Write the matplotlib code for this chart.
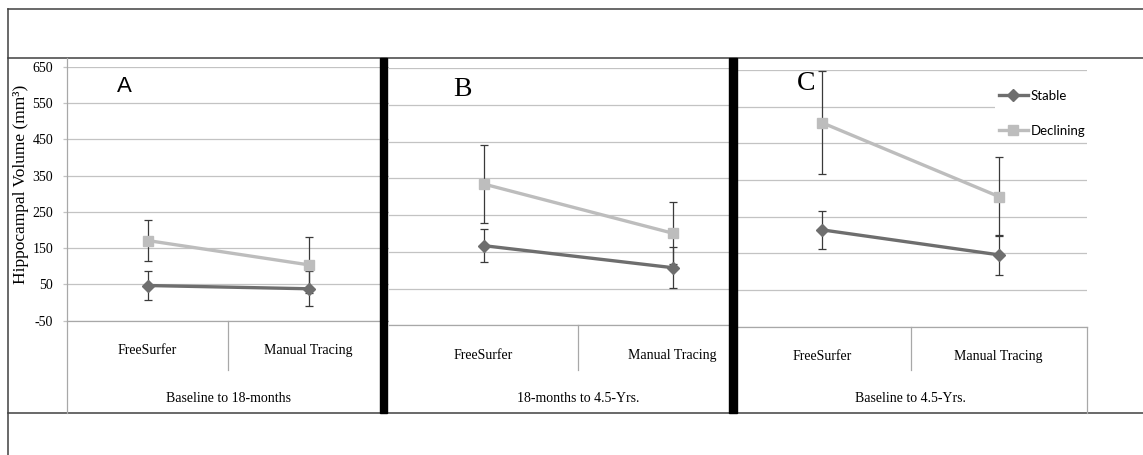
import matplotlib
matplotlib.use("Agg")
import matplotlib.pyplot as plt
from matplotlib.lines import Line2D
from matplotlib.patches import Rectangle
from matplotlib.transforms import blended_transform_factory

# ---------------- data ----------------
categories = ["FreeSurfer", "Manual Tracing"]
panel_titles = ["Baseline to 18-months", "18-months to 4.5-Yrs.", "Baseline to 4.5-Yrs."]
panel_letters = ["A", "B", "C"]
series_names = ["Stable", "Declining"]

stable_A = [47, 38]
stable_A_err = [41, 48]
declining_A = [171, 104]
declining_A_err = [56, 77]

stable_B = [167, 107]
stable_B_err = [44, 55]
declining_B = [335, 201]
declining_B_err = [105, 84]

stable_C = [214, 146]
stable_C_err = [51, 54]
declining_C = [506, 305]
declining_C_err = [140, 107]

yticks = [-50, 50, 150, 250, 350, 450, 550, 650]
ylabel = "Hippocampal Volume (mm³)"

# ---------------- style ----------------
W, H, DPI = 1143, 455, 100
GRID = "#C3C3C3"
AXIS = "#A8A8A8"
STABLE = "#6E6E6E"
DECL = "#BDBDBD"
ERR = "#3A3A3A"
FRAME = "#404040"
SERIF = "Liberation Serif"
SANS = "Liberation Sans"

fig = plt.figure(figsize=(W / DPI, H / DPI), dpi=DPI)


def fx(x):
    return x / W


def fy(y):
    return 1 - y / H


# panel layout in pixels: left, right, top(650), bottom(-50), px per category
rects = [(67, 389, 66.7, 320.7, 161.0),
         (389, 729, 68.3, 325.3, 189.0),
         (734, 1087, 70.0, 326.7, 176.5)]
data = [
    (stable_A, stable_A_err, declining_A, declining_A_err),
    (stable_B, stable_B_err, declining_B, declining_B_err),
    (stable_C, stable_C_err, declining_C, declining_C_err),
]

axes = []
for i, ((l, r, t, b, unit), (s, se, d, de)) in enumerate(zip(rects, data)):
    ax = fig.add_axes([fx(l), fy(b), (r - l) / W, (b - t) / H], zorder=i)
    ax.set_facecolor("white")
    x = list(range(len(categories)))
    ax.set_xlim(-0.5, -0.5 + (r - l) / unit)
    ax.set_ylim(yticks[0], yticks[-1])
    ax.set_yticks(yticks)
    ax.grid(axis="y", color=GRID, lw=0.9)
    ax.set_axisbelow(True)
    for sp in ["top", "right", "left"]:
        ax.spines[sp].set_visible(False)
    ax.spines["bottom"].set_color(AXIS)
    ax.spines["bottom"].set_linewidth(0.9)
    ax.set_xticks(x)
    ax.set_xticklabels(categories, fontfamily=SERIF, fontsize=10)
    ax.tick_params(axis="x", length=0, pad=17)
    if i == 0:
        ax.set_yticklabels([str(v) for v in yticks], fontfamily=SERIF, fontsize=10)
        ax.tick_params(axis="y", length=3, width=0.9, color=GRID, pad=7)
    else:
        ax.tick_params(axis="y", left=False, labelleft=False)

    ax.errorbar(x, s, yerr=se, fmt="none", ecolor=ERR, elinewidth=0.9,
                capsize=3, capthick=0.9, zorder=3)
    ax.errorbar(x, d, yerr=de, fmt="none", ecolor=ERR, elinewidth=0.9,
                capsize=3, capthick=0.9, zorder=3)
    ls, = ax.plot(x, s, color=STABLE, lw=2.4, marker="D", ms=6.5,
                  label=series_names[0], zorder=4)
    ld, = ax.plot(x, d, color=DECL, lw=2.4, marker="s", ms=7.5,
                  label=series_names[1], zorder=4)

    hpx = b - t
    bt = blended_transform_factory(ax.transData, ax.transAxes)
    ax.plot([0.5, 0.5], [0, -(370 - b) / hpx], transform=bt, clip_on=False,
            color=AXIS, lw=0.9)
    ax.text(0.5, -(399 - b) / hpx, panel_titles[i], transform=bt,
            ha="center", va="center", fontfamily=SERIF, fontsize=10)
    axes.append((ax, ls, ld))

# frame lines
def fline(x0, y0, x1, y1, color=FRAME, lw=1.1):
    fig.add_artist(Line2D([fx(x0), fx(x1)], [fy(y0), fy(y1)], color=color, lw=lw,
                          transform=fig.transFigure, zorder=5))

fline(8, 8.7, W, 8.7)
fline(8, 57.5, W, 57.5)
fline(8, 413, W, 413)
fline(8, 8.7, 8, H)
fline(67, 57.5, 67, 413, color=AXIS, lw=0.9)
fline(1087, 326.7, 1087, 413, color=AXIS, lw=0.9)

# black separator bars
for x0, x1 in [(380, 387), (729, 737)]:
    fig.add_artist(Rectangle((fx(x0), fy(413)), (x1 - x0) / W, (413 - 57.5) / H,
                             transform=fig.transFigure, color="black", zorder=6))

# panel letters
fig.text(fx(124), fy(87), panel_letters[0], fontfamily=SANS, fontsize=16,
         ha="center", va="center", zorder=7)
fig.text(fx(462), fy(90), panel_letters[1], fontfamily=SERIF, fontsize=20,
         ha="center", va="center", zorder=7)
fig.text(fx(806), fy(83), panel_letters[2], fontfamily=SERIF, fontsize=20,
         ha="center", va="center", zorder=7)

# y label
fig.text(fx(21), fy(184), ylabel, rotation=90, fontfamily=SERIF, fontsize=12.5,
         ha="center", va="center")

# legend
_, ls, ld = axes[2]
leg = fig.legend([ls, ld], series_names, loc="upper left",
                 bbox_to_anchor=(fx(995), fy(86)), frameon=True,
                 prop={"family": "Lato", "size": 9.5}, handlelength=2.2,
                 handletextpad=0.2, labelspacing=1.75, borderpad=0.3,
                 borderaxespad=0)
leg.get_frame().set_facecolor("white")
leg.get_frame().set_edgecolor("none")
leg.get_frame().set_alpha(1)
leg.set_zorder(8)

fig.savefig("out.png", dpi=DPI, facecolor="white")
